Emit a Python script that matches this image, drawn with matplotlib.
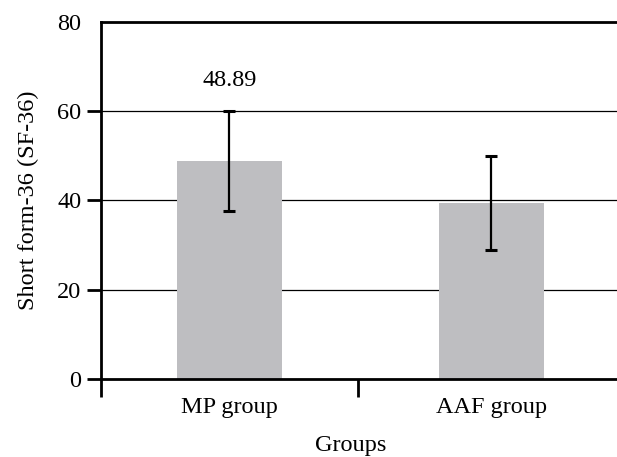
import matplotlib.pyplot as plt

# data
groups = ["MP group", "AAF group"]
means = [48.89, 39.4]
errors = [11.2, 10.6]
label_text = "48.89"
yticks = [0, 20, 40, 60, 80]

plt.rcParams['font.family'] = ['Liberation Serif', 'DejaVu Serif']
fs = 17.5

fig = plt.figure(figsize=(6.17, 4.57), dpi=100)
ax = fig.add_axes([0.1637, 0.1707, 0.8363, 0.7812])

x = list(range(len(groups)))

# grid lines behind the bars
for v in yticks[1:-1]:
    ax.axhline(v, color='black', lw=0.9, zorder=0)

ax.bar(x, means, width=0.4, color='#bebec1', zorder=2)
ax.errorbar(x, means, yerr=errors, fmt='none', ecolor='black',
            elinewidth=1.6, capsize=4.5, capthick=2.2, zorder=3)

ax.text(x[0], 66.8, label_text, ha='center', va='center', fontsize=fs)

ax.set_xlim(-0.49, 1.48)
ax.set_ylim(0, 80)

# category boundaries as major ticks, names as minor labels
ax.set_xticks([-0.49, 0.49])
ax.set_xticklabels([])
ax.set_xticks(x, minor=True)
ax.set_xticklabels(groups, minor=True, fontsize=fs)
ax.tick_params(axis='x', which='major', length=13, width=2, direction='out')
ax.tick_params(axis='x', which='minor', length=0, pad=13)

ax.set_yticks(yticks)
ax.set_yticklabels([str(v) for v in yticks], fontsize=fs)
ax.tick_params(axis='y', length=10, width=2, pad=4)
ax.yaxis.get_major_ticks()[-1].tick1line.set_visible(False)

for side in ['left', 'top', 'bottom']:
    ax.spines[side].set_linewidth(2)
ax.spines['right'].set_visible(False)

ax.set_ylabel("Short form-36 (SF-36)", fontsize=fs)
ax.yaxis.set_label_coords(-0.12, 0.5)
ax.set_xlabel("Groups", fontsize=fs)
ax.xaxis.set_label_coords(0.484, -0.157)

fig.savefig("out.png", dpi=100)
